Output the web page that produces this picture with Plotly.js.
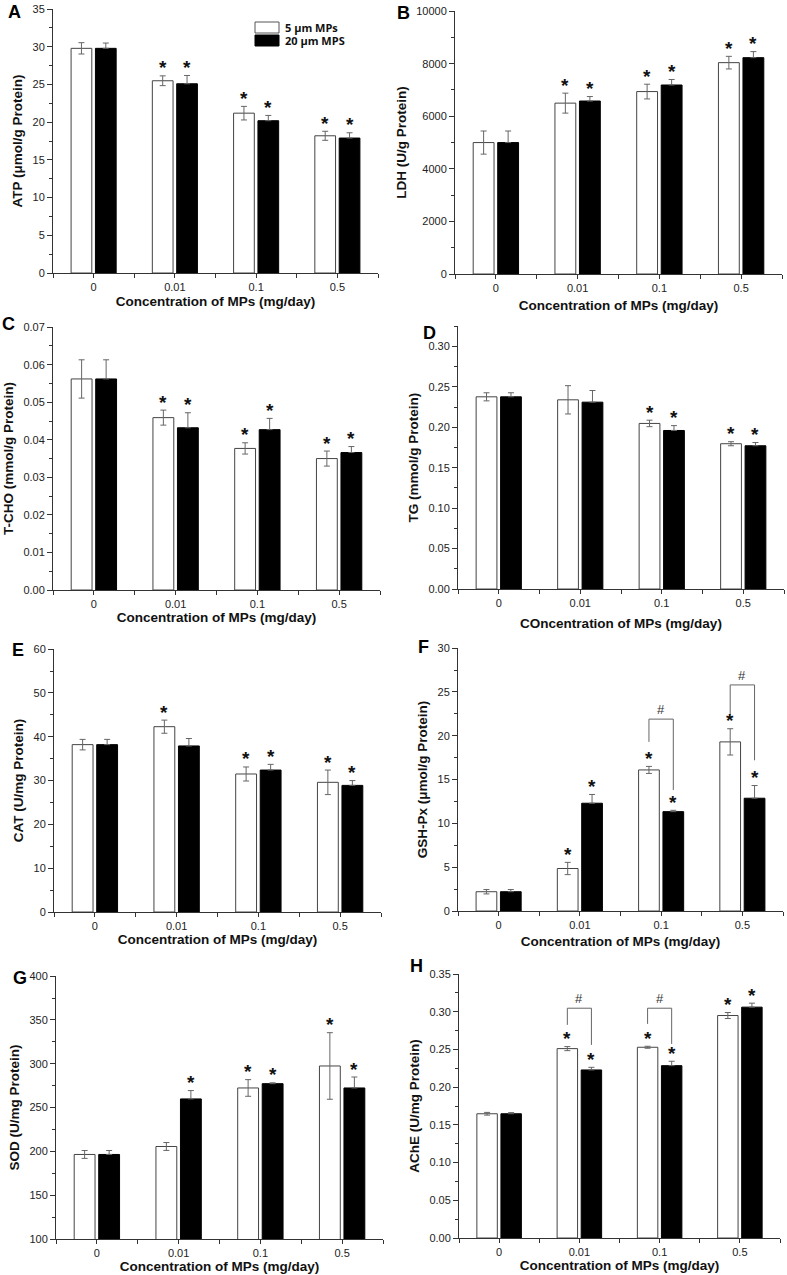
<!DOCTYPE html>
<html><head><meta charset="utf-8">
<script src="https://cdn.plot.ly/plotly-3.0.1.min.js"></script>
<style>html,body{margin:0;padding:0;background:#fff}#chart{width:787px;height:1275px}</style>
</head><body><div id="chart"></div>
<script>
// ---------------- DATA ----------------
const categories = ['0', '0.01', '0.1', '0.5'];
const seriesNames = ['5 μm MPs', '20 μm MPS'];

// A: ATP (μmol/g Protein)
const atp5 = [29.8, 25.5, 21.2, 18.2];
const atp5Err = [0.75, 0.65, 0.9, 0.6];
const atp20 = [29.8, 25.1, 20.2, 17.9];
const atp20Err = [0.7, 1.1, 0.7, 0.7];
const atp5Star = [0, 1, 1, 1];
const atp20Star = [0, 1, 1, 1];

// B: LDH (U/g Protein)
const ldh5 = [5000, 6500, 6940, 8040];
const ldh5Err = [440, 380, 280, 240];
const ldh20 = [5000, 6580, 7190, 8230];
const ldh20Err = [440, 170, 210, 230];
const ldh5Star = [0, 1, 1, 1];
const ldh20Star = [0, 1, 1, 1];

// C: T-CHO (mmol/g Protein)
const tcho5 = [0.0562, 0.0459, 0.0377, 0.0350];
const tcho5Err = [0.0051, 0.0020, 0.0015, 0.0020];
const tcho20 = [0.0562, 0.0432, 0.0427, 0.0366];
const tcho20Err = [0.0051, 0.0040, 0.0030, 0.0016];
const tcho5Star = [0, 1, 1, 1];
const tcho20Star = [0, 1, 1, 1];

// D: TG (mmol/g Protein)
const tg5 = [0.2376, 0.2339, 0.2047, 0.1796];
const tg5Err = [0.005, 0.0175, 0.004, 0.0025];
const tg20 = [0.2376, 0.2310, 0.1960, 0.1771];
const tg20Err = [0.005, 0.0144, 0.006, 0.004];
const tg5Star = [0, 0, 1, 1];
const tg20Star = [0, 0, 1, 1];

// E: CAT (U/mg Protein)
const cat5 = [38.2, 42.3, 31.5, 29.6];
const cat5Err = [1.2, 1.5, 1.6, 2.8];
const cat20 = [38.2, 37.9, 32.4, 28.9];
const cat20Err = [1.2, 1.7, 1.3, 1.1];
const cat5Star = [0, 1, 1, 1];
const cat20Star = [0, 0, 1, 1];

// F: GSH-Px (μmol/g Protein)
const gsh5 = [2.2, 4.85, 16.1, 19.3];
const gsh5Err = [0.25, 0.7, 0.4, 1.5];
const gsh20 = [2.2, 12.3, 11.34, 12.87];
const gsh20Err = [0.25, 1.0, 0.15, 1.45];
const gsh5Star = [0, 1, 1, 1];
const gsh20Star = [0, 1, 1, 1];
// "#" brackets: category index, bracket height, left leg end, right leg end
const gshHashCat = [2, 3];
const gshHashTop = [21.9, 25.8];
const gshHashLeftEnd = [19.3, 22.4];
const gshHashRightEnd = [13.8, 17.2];

// G: SOD (U/mg Protein)
const sod5 = [196.5, 205.6, 272.4, 297.5];
const sod5Err = [4.5, 4.5, 9.5, 38];
const sod20 = [196.5, 259.9, 277.3, 272.4];
const sod20Err = [4.5, 9.5, 1.0, 12.5];
const sod5Star = [0, 0, 1, 1];
const sod20Star = [0, 1, 1, 1];

// H: AChE (U/mg Protein)
const ache5 = [0.1648, 0.2512, 0.2530, 0.2951];
const ache5Err = [0.0018, 0.0027, 0.0013, 0.0040];
const ache20 = [0.1648, 0.2229, 0.2286, 0.3062];
const ache20Err = [0.0015, 0.0035, 0.0058, 0.0053];
const ache5Star = [0, 1, 1, 1];
const ache20Star = [0, 1, 1, 1];
const acheHashCat = [1, 2];
const acheHashTop = [0.3048, 0.3048];
const acheHashLeftEnd = [0.2827, 0.2840];
const acheHashRightEnd = [0.2561, 0.2574];

// ---------------- PANELS ----------------
const XT = 'Concentration of MPs (mg/day)';
const panels = [
  {letter:'A', yt:'ATP (μmol/g Protein)', xt:XT, v5:atp5, e5:atp5Err, v20:atp20, e20:atp20Err, s5:atp5Star, s20:atp20Star,
   range:[0,35], dtick:5, fmt:'', px:[53,378,9,273], lp:[14.5,12], xso:4},
  {letter:'B', yt:'LDH (U/g Protein)', xt:XT, v5:ldh5, e5:ldh5Err, v20:ldh20, e20:ldh20Err, s5:ldh5Star, s20:ldh20Star,
   range:[0,10000], dtick:2000, fmt:'d', px:[455,782,11,274], lp:[403,13], xso:7},
  {letter:'C', yt:'T-CHO (mmol/g Protein)', xt:XT, v5:tcho5, e5:tcho5Err, v20:tcho20, e20:tcho20Err, s5:tcho5Star, s20:tcho20Star,
   range:[0,0.07], dtick:0.01, fmt:'.2f', px:[53,380,327,590], lp:[8.5,324], xso:0},
  {letter:'D', yt:'TG (mmol/g Protein)', xt:'COncentration of MPs (mg/day)', v5:tg5, e5:tg5Err, v20:tg20, e20:tg20Err, s5:tg5Star, s20:tg20Star,
   range:[0,0.325], dtick:0.05, fmt:'.2f', px:[458,784,326,589], lp:[429,333], xso:10},
  {letter:'E', yt:'CAT (U/mg Protein)', xt:XT, v5:cat5, e5:cat5Err, v20:cat20, e20:cat20Err, s5:cat5Star, s20:cat20Star,
   range:[0,60], dtick:10, fmt:'', px:[54,381,649,912], lp:[17.5,649.5], xso:3},
  {letter:'F', yt:'GSH-Px (μmol/g Protein)', xt:XT, v5:gsh5, e5:gsh5Err, v20:gsh20, e20:gsh20Err, s5:gsh5Star, s20:gsh20Star,
   range:[0,30], dtick:5, fmt:'', px:[458,783,648,911], lp:[423.5,646.5], xso:6,
   hash:{cat:gshHashCat, top:gshHashTop, l:gshHashLeftEnd, r:gshHashRightEnd}},
  {letter:'G', yt:'SOD (U/mg Protein)', xt:XT, v5:sod5, e5:sod5Err, v20:sod20, e20:sod20Err, s5:sod5Star, s20:sod20Star,
   range:[100,400], dtick:50, fmt:'', px:[56,383,976,1239], lp:[20,977.5], xso:1},
  {letter:'H', yt:'AChE (U/mg Protein)', xt:XT, v5:ache5, e5:ache5Err, v20:ache20, e20:ache20Err, s5:ache5Star, s20:ache20Star,
   range:[0,0.35], dtick:0.05, fmt:'.2f', px:[459,780,974,1238], lp:[416.5,966], xso:2,
   hash:{cat:acheHashCat, top:acheHashTop, l:acheHashLeftEnd, r:acheHashRightEnd}}
];

// ---------------- BUILD ----------------
const W = 787, H = 1275;
const BARGAP = 0.4, GROUPGAP = 0.15;
const OFF = (1 - BARGAP) / 4;   // center offset of each bar within a group
const FONT = 'Liberation Sans, Arial, Helvetica, sans-serif';
const AX = '#333';
const data = [], annotations = [], shapes = [];
const layout = {
  width: W, height: H, margin: {l:0, r:0, t:0, b:0},
  paper_bgcolor: '#fff', plot_bgcolor: '#fff',
  barmode: 'group', bargap: BARGAP, bargroupgap: GROUPGAP,
  showlegend: false, font: {family: FONT, color: '#222'}
};
const xIdx = categories.map((c, i) => i);

panels.forEach((p, k) => {
  const sfx = k === 0 ? '' : String(k + 1);
  const xa = 'x' + sfx, ya = 'y' + sfx;
  const [x0, x1, yt, yb] = p.px;
  data.push({
    type: 'bar', name: seriesNames[0], x: xIdx, y: p.v5, xaxis: xa, yaxis: ya,
    marker: {color: '#ffffff', line: {color: '#444', width: 1}},
    error_y: {type: 'data', array: p.e5, color: '#666', thickness: 1, width: 3},
    hoverinfo: 'y'
  });
  data.push({
    type: 'bar', name: seriesNames[1], x: xIdx, y: p.v20, xaxis: xa, yaxis: ya,
    marker: {color: '#000000', line: {color: '#000', width: 1}},
    error_y: {type: 'data', array: p.e20, arrayminus: p.e20.map(() => 0), symmetric: false, color: '#666', thickness: 1, width: 3},
    hoverinfo: 'y'
  });
  layout['xaxis' + sfx] = {
    domain: [x0 / W, x1 / W], anchor: ya, range: [-0.5, 3.5],
    tickmode: 'array', tickvals: xIdx, ticktext: categories,
    ticks: 'outside', ticklen: 4, tickcolor: AX, tickwidth: 1,
    minor: {tick0: -0.5, dtick: 1, ticks: 'outside', ticklen: 4, tickcolor: AX, tickwidth: 1, showgrid: false},
    showline: true, linecolor: AX, linewidth: 1, showgrid: false, zeroline: false,
    tickfont: {family: FONT, size: 11, color: '#222'},
    title: {text: p.xt, font: {family: FONT, size: 13.5, weight: 'bold', color: '#111'}, standoff: p.xso},
    fixedrange: true, automargin: false
  };
  layout['yaxis' + sfx] = {
    domain: [1 - yb / H, 1 - yt / H], anchor: xa, range: [p.range[0], p.range[1] * 1.0005],
    tick0: p.range[0], dtick: p.dtick, tickformat: p.fmt,
    ticks: 'outside', ticklen: 5, tickcolor: AX, tickwidth: 1,
    minor: {dtick: p.dtick / 2, ticks: 'outside', ticklen: 3, tickcolor: AX, tickwidth: 1, showgrid: false},
    showline: true, linecolor: AX, linewidth: 1, showgrid: false, zeroline: false,
    tickfont: {family: FONT, size: 11, color: '#222'},
    title: {text: p.yt, font: {family: FONT, size: 13.5, weight: 'bold', color: '#111'}, standoff: 6},
    fixedrange: true, automargin: false
  };
  // significance stars
  [[p.v5, p.e5, p.s5, -OFF], [p.v20, p.e20, p.s20, OFF]].forEach(([v, e, s, off]) => {
    v.forEach((val, i) => {
      if (!s[i]) return;
      annotations.push({
        xref: xa, yref: ya, x: i + off, y: val + e[i], text: '*', showarrow: false,
        font: {family: FONT, size: 19, weight: 'bold', color: '#111'},
        yanchor: 'middle', xanchor: 'center', yshift: 8
      });
    });
  });
  // "#" brackets
  if (p.hash) {
    p.hash.cat.forEach((c, j) => {
      const top = p.hash.top[j];
      const line = {color: '#666', width: 1};
      shapes.push({type: 'line', xref: xa, yref: ya, x0: c - OFF, x1: c - OFF, y0: p.hash.l[j], y1: top, line});
      shapes.push({type: 'line', xref: xa, yref: ya, x0: c - OFF, x1: c + OFF, y0: top, y1: top, line});
      shapes.push({type: 'line', xref: xa, yref: ya, x0: c + OFF, x1: c + OFF, y0: top, y1: p.hash.r[j], line});
      annotations.push({xref: xa, yref: ya, x: c, y: top, text: '#', showarrow: false,
        font: {family: FONT, size: 13, color: '#333'}, yanchor: 'bottom', yshift: 0});
    });
  }
  // panel letter
  annotations.push({xref: 'paper', yref: 'paper', x: p.lp[0] / W, y: 1 - p.lp[1] / H, text: p.letter,
    showarrow: false, xanchor: 'center', yanchor: 'middle',
    font: {family: FONT, size: 18, weight: 'bold', color: '#000'}});
});

// legend (drawn inside panel A)
const legBoxes = [[255, 279, 22, 33, '#ffffff', '#555'], [255, 279, 35, 46, '#000000', '#000']];
legBoxes.forEach(([a, b, c, d, fill, ln], i) => {
  shapes.push({type: 'rect', xref: 'paper', yref: 'paper', x0: a / W, x1: b / W, y0: 1 - d / H, y1: 1 - c / H,
    fillcolor: fill, line: {color: ln, width: 1}});
  annotations.push({xref: 'paper', yref: 'paper', x: 283 / W, y: 1 - ((c + d) / 2) / H, text: seriesNames[i],
    showarrow: false, xanchor: 'left', yanchor: 'middle',
    font: {family: 'Open Sans, Liberation Sans, sans-serif', size: 11, weight: 'bold', color: '#111'}});
});

layout.annotations = annotations;
layout.shapes = shapes;
Plotly.newPlot('chart', data, layout, {staticPlot: true, displayModeBar: false});
</script>
</body></html>
